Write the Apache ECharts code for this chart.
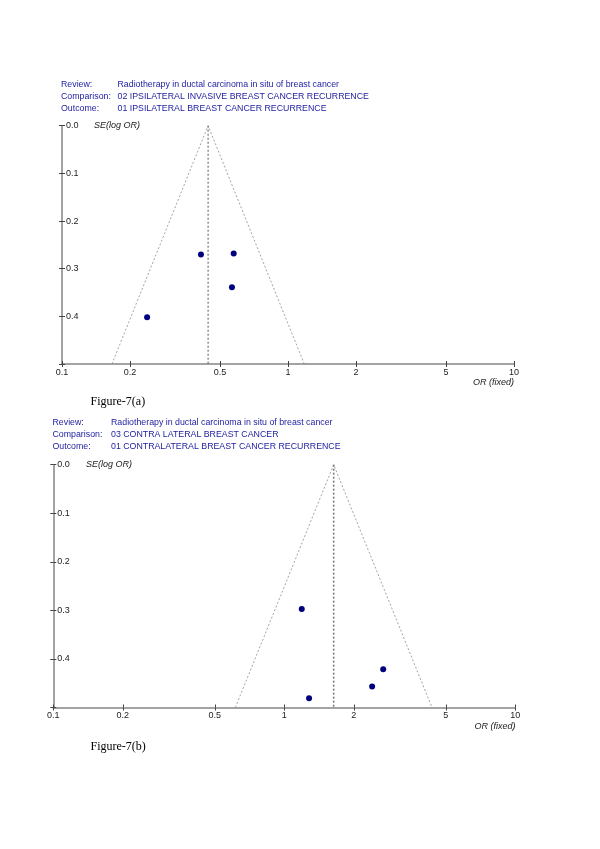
<!DOCTYPE html>
<html><head><meta charset="utf-8">
<script src="https://cdn.jsdelivr.net/npm/echarts@6/dist/echarts.min.js"></script>
<style>html,body{margin:0;padding:0;background:#fff}#c{width:600px;height:849px}</style>
</head><body><div id="c"></div>
<script>
// ---- data ----
const xTicks = [0.1, 0.2, 0.5, 1, 2, 5, 10];
const yTicks = [0, 0.1, 0.2, 0.3, 0.4];
const seMax = 0.5;
const orA = [0.412, 0.575, 0.565, 0.238];
const seA = [0.270, 0.268, 0.339, 0.402];
const pooledA = 0.443;
const orB = [1.19, 2.68, 2.40, 1.28];
const seB = [0.297, 0.421, 0.457, 0.481];
const pooledB = 1.636;
const headerA = ['Radiotherapy in ductal carcinoma in situ of breast cancer',
  '02 IPSILATERAL INVASIVE BREAST CANCER RECURRENCE',
  '01 IPSILATERAL BREAST CANCER RECURRENCE'];
const headerB = ['Radiotherapy in ductal carcinoma in situ of breast cancer',
  '03 CONTRA LATERAL BREAST CANCER',
  '01 CONTRALATERAL BREAST CANCER RECURRENCE'];
const headerLabels = ['Review:', 'Comparison:', 'Outcome:'];
const captions = ['Figure-7(a)', 'Figure-7(b)'];

// ---- build ----
const axisGrey = '#858585';
const sans = 'Liberation Sans, Arial, sans-serif';
function funnel(p) {
  return [[p * Math.exp(-1.96 * seMax), seMax], [p, 0], [p * Math.exp(1.96 * seMax), seMax]];
}
function xAxes(gi) {
  return [{
    type: 'log', gridIndex: gi, min: 0.1, max: 10, logBase: 10, position: 'bottom',
    axisLine: {show: true, onZero: false, lineStyle: {color: axisGrey, width: 1.5}},
    axisTick: {show: true, length: 3, inside: false, customValues: xTicks, lineStyle: {color: '#444'}},
    axisLabel: {customValues: xTicks, margin: 4, fontFamily: sans, fontSize: 9, color: '#222',
      formatter: v => String(+v.toPrecision(3))},
    splitLine: {show: false}, minorTick: {show: false}
  }, {
    type: 'log', gridIndex: gi, min: 0.1, max: 10, logBase: 10, position: 'bottom',
    axisLine: {show: false, onZero: false},
    axisTick: {show: true, length: 3, inside: true, customValues: xTicks, lineStyle: {color: '#444'}},
    axisLabel: {show: false}, splitLine: {show: false}
  }];
}
function yAxes(gi) {
  return [{
    type: 'value', gridIndex: gi, min: 0, max: seMax, interval: 0.1, inverse: true, position: 'left',
    axisLine: {show: true, onZero: false, lineStyle: {color: axisGrey, width: 1.5}},
    axisTick: {show: true, length: 3, inside: false, lineStyle: {color: '#444'}},
    axisLabel: {inside: true, margin: 4, fontFamily: sans, fontSize: 9, color: '#222',
      formatter: v => (yTicks.some(t => Math.abs(t - v) < 1e-9) ? v.toFixed(1) : '')},
    splitLine: {show: false}
  }, {
    type: 'value', gridIndex: gi, min: 0, max: seMax, interval: 0.1, inverse: true, position: 'left',
    axisLine: {show: false, onZero: false},
    axisTick: {show: true, length: 3, inside: true, lineStyle: {color: '#444'}},
    axisLabel: {show: false}, splitLine: {show: false}
  }];
}
function seriesFor(gi, ors, ses, pooled, vWidth, vColor) {
  const xi = gi * 2, yi = gi * 2;
  return [
    {type: 'line', xAxisIndex: xi, yAxisIndex: yi, data: funnel(pooled), symbol: 'none', silent: true,
      lineStyle: {color: '#8c8c8c', width: 0.8, type: [2, 2]}, z: 2},
    {type: 'line', xAxisIndex: xi, yAxisIndex: yi, data: [[pooled, 0], [pooled, seMax]], symbol: 'none', silent: true,
      lineStyle: {color: vColor, width: vWidth, type: [2, 2]}, z: 3},
    {type: 'scatter', xAxisIndex: xi, yAxisIndex: yi, symbol: 'circle', symbolSize: 6,
      itemStyle: {color: '#00007f', opacity: 1}, data: ors.map((o, i) => [o, ses[i]]), z: 5}
  ];
}
function headerGraphics(labels, values, xl, xv, y0) {
  const g = [];
  labels.forEach((l, i) => {
    g.push({type: 'text', left: xl, top: y0 + i * 11.8, style: {text: l, fill: '#1c1ca0', font: '8.8px ' + sans}});
    g.push({type: 'text', left: xv, top: y0 + i * 11.8, style: {text: values[i], fill: '#1c1ca0', font: '8.8px ' + sans}});
  });
  return g;
}
const graphics = [].concat(
  headerGraphics(headerLabels, headerA, 61, 117.5, 80),
  headerGraphics(headerLabels, headerB, 52.5, 111, 418),
  [
    {type: 'text', left: 94, top: 120.5, style: {text: 'SE(log OR)', fill: '#222', font: 'italic 9px ' + sans}},
    {type: 'text', left: 86, top: 459.5, style: {text: 'SE(log OR)', fill: '#222', font: 'italic 9px ' + sans}},
    {type: 'text', right: 600 - 514, top: 377.5, style: {text: 'OR (fixed)', fill: '#222', font: 'italic 9px ' + sans}},
    {type: 'text', right: 600 - 515.5, top: 721.5, style: {text: 'OR (fixed)', fill: '#222', font: 'italic 9px ' + sans}},
    {type: 'text', left: 90.5, top: 396, style: {text: captions[0], fill: '#000', font: '12px Liberation Serif, Times New Roman, serif'}},
    {type: 'text', left: 90.5, top: 740.5, style: {text: captions[1], fill: '#000', font: '12px Liberation Serif, Times New Roman, serif'}}
  ]
);
const option = {
  animation: false,
  backgroundColor: '#fff',
  grid: [
    {left: 62, width: 452, top: 125.7, height: 238.3},
    {left: 53.3, width: 462, top: 464.7, height: 242.8}
  ],
  xAxis: xAxes(0).concat(xAxes(1)),
  yAxis: yAxes(0).concat(yAxes(1)),
  series: seriesFor(0, orA, seA, pooledA, 1, '#555').concat(seriesFor(1, orB, seB, pooledB, 1.6, '#7a7a7a')),
  graphic: graphics
};
const chart = echarts.init(document.getElementById('c'), null, {renderer: 'canvas'});
chart.setOption(option);
</script></body></html>
